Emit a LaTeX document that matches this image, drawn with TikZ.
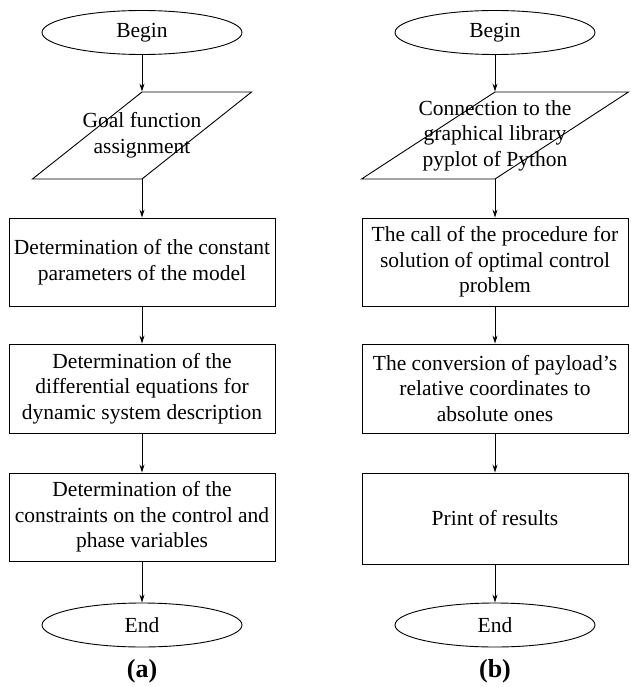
\documentclass[tikz,border=0pt]{standalone}
\usepackage{fontspec}
\setmainfont{Liberation Serif}
\usetikzlibrary{arrows.meta}
\usetikzlibrary{shapes.geometric}

\begin{document}
\begin{tikzpicture}[x=1pt,y=-1pt,>={Stealth[length=8pt,width=5pt]},line width=0.9pt,
    font=\fontsize{21.5}{25.5}\selectfont,
    term node/.style={ellipse,draw,minimum width=200pt,minimum height=44pt,inner sep=0pt},
    io node/.style={trapezium,draw,trapezium left angle=52,trapezium right angle=128,
      trapezium stretches,minimum height=87pt,inner sep=0pt},
    io text/.style={align=center,inner sep=0pt},
    proc node/.style={rectangle,draw,align=center,minimum width=266pt,minimum height=88pt,inner sep=2pt},
    cap node/.style={font=\fontsize{26}{30}\bfseries\selectfont}]
      \useasboundingbox (0,0) rectangle (630,687);

      % (a) model description
      \node [term node] (a0) at (142,32.5) {Begin};
      \node [io node, minimum width=220pt] (a1) at (142,135.5) {\strut};
      \node [io text] (a1t) at (a1.center) {Goal function\\assignment};
      \node [proc node] (a2) at (142,262) {Determination of the constant\\parameters of the model};
      \node [proc node, minimum height=89pt] (a3) at (142,388.5) {Determination of the\\differential equations for\\dynamic system description};
      \node [proc node] (a4) at (142,517) {Determination of the\\constraints on the control and\\phase variables};
      \node [term node] (a5) at (142,625) {End};
      \node [cap node] (capa) at (142,671) {(a)};

      % (b) main program
      \node [term node] (b0) at (495,32.5) {Begin};
      \node [io node, minimum width=268pt] (b1) at (495,135.5) {\strut};
      \node [io text] (b1t) at (b1.center) {Connection to the\\graphical library\\pyplot of Python};
      \node [proc node] (b2) at (495,262) {The call of the procedure for\\solution of optimal control\\problem};
      \node [proc node, minimum height=89pt] (b3) at (495,388.5) {The conversion of payload's\\relative coordinates to\\absolute ones};
      \node [proc node, minimum height=91pt] (b4) at (495,518.5) {Print of results};
      \node [term node] (b5) at (495,625) {End};
      \node [cap node] (capb) at (495,671) {(b)};

      \foreach \c in {a, b} {
        \draw[->] (\c0) -- (\c1);
        \draw[->] (\c1) -- (\c2);
        \draw[->] (\c2) -- (\c3);
        \draw[->] (\c3) -- (\c4);
        \draw[->] (\c4) -- (\c5);
      }
    \end{tikzpicture}
\end{document}
